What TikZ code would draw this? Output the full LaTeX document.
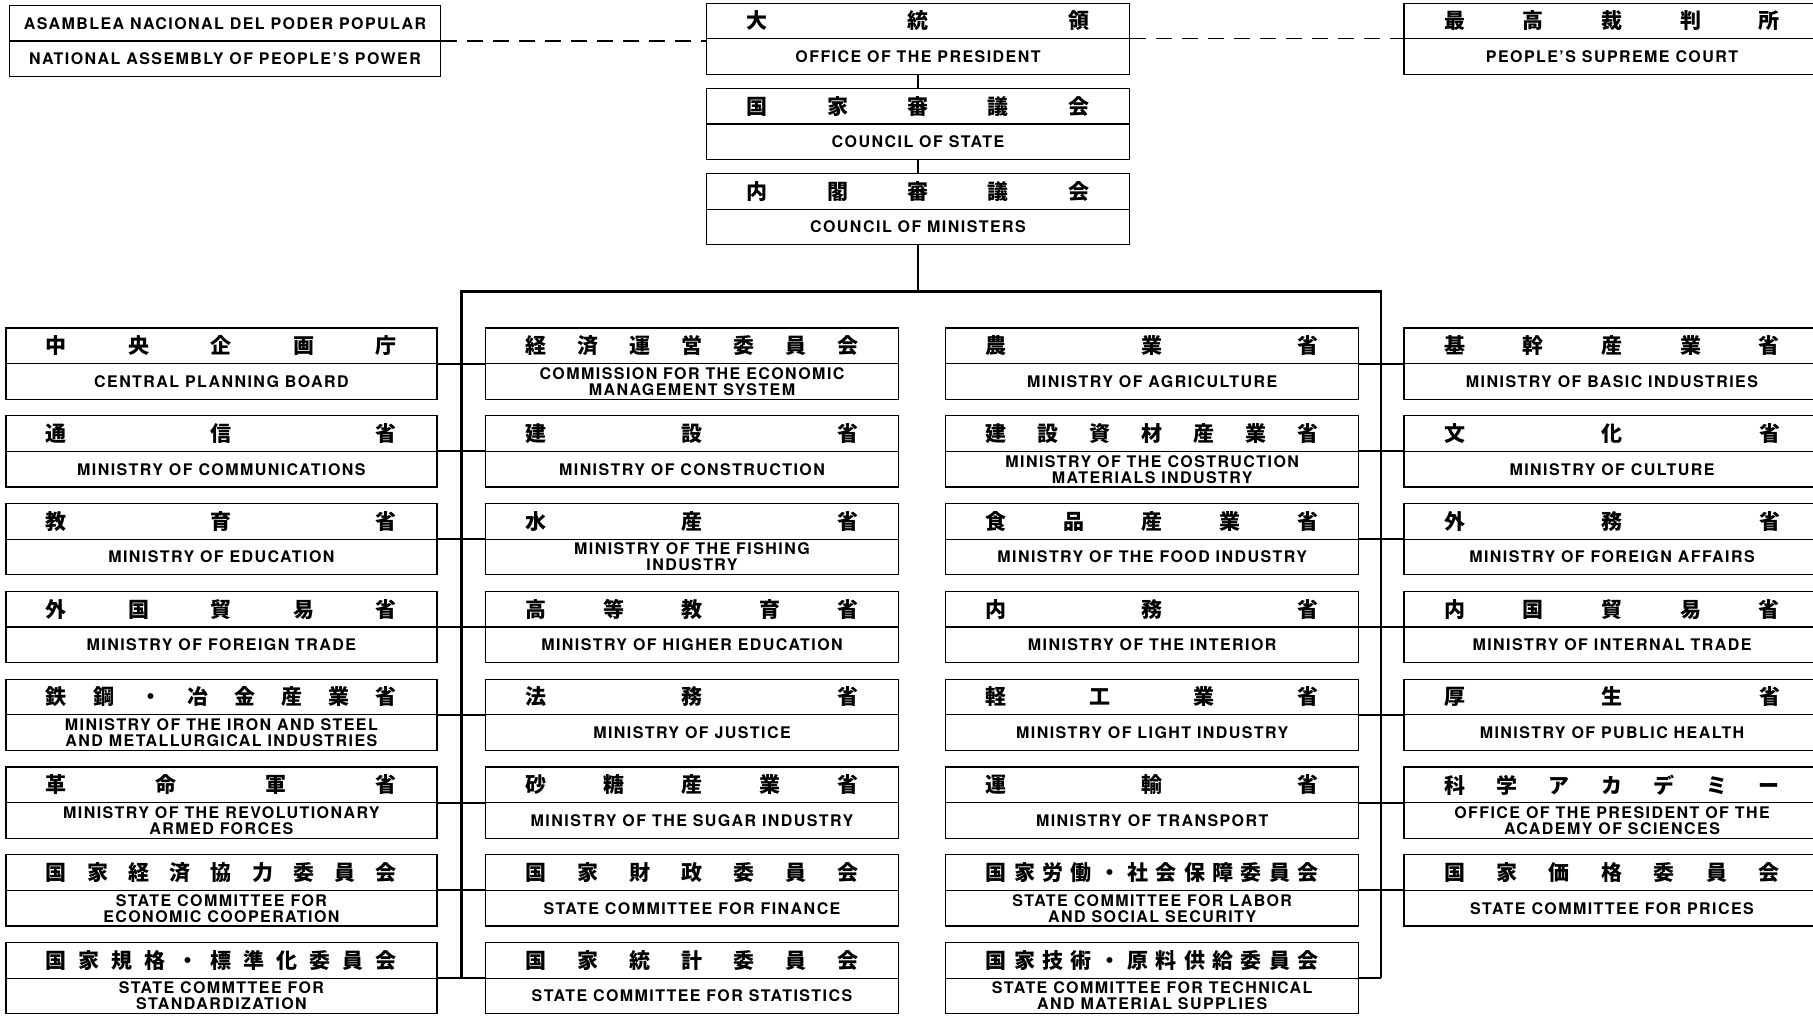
\documentclass[tikz,border=0pt]{standalone}
\usepackage{fontspec}
\newfontfamily\enfont[LetterSpace=9]{TeX Gyre Heros}
\newfontfamily\jpfont{Noto Sans CJK JP}
\usetikzlibrary{shapes.multipart,positioning}

\newlength{\halfh}
\setlength{\halfh}{34.3pt}

% spread the characters of a Japanese name over the upper part
\def\jpnext#1{\ifx\relax#1\else\hfill#1\expandafter\jpnext\fi}
\def\jpfirst#1{#1\jpnext}
\newcommand{\spreadjp}[1]{\jpfirst#1\relax}

\newcommand{\dept}[3]{%
  \parbox[c][\halfh][c]{#1}{\centering\makebox[\dimexpr#1-80pt\relax][s]{\jpfont\bfseries\fontsize{21}{22}\selectfont\spreadjp{#2}}}%
  \nodepart{two}%
  \parbox[c][\halfh][c]{#1}{\centering #3}}

\tikzset
{
    orgbox/.style   = {rectangle split, rectangle split parts=2, draw=black, line width=1.3pt, inner sep=0pt, font=\enfont\bfseries\fontsize{16}{16}\selectfont},
    link/.style     = {draw=black, line width=2pt},
    bus/.style      = {draw=black, line width=2.6pt},
    dashlink/.style = {draw=black, line width=1.2pt, dash pattern=on 16pt off 10pt}
}

\begin{document}
\begin{tikzpicture}[x=1pt, y=-1pt, node distance=15.3pt]
\path[use as bounding box, fill=white] (0,0) rectangle (1813,1020);

% top of the chart
\node[orgbox] (pres) at (918,38.8) {\dept{423pt}{大統領}{OFFICE OF THE PRESIDENT}};
\node[orgbox, below=12.7pt of pres] (state) {\dept{423pt}{国家審議会}{COUNCIL OF STATE}};
\node[orgbox, below=12.7pt of state] (minis) {\dept{423pt}{内閣審議会}{COUNCIL OF MINISTERS}};
\node[orgbox] (assembly) at (225,41) {\parbox[c][\halfh][c]{431pt}{\centering ASAMBLEA NACIONAL DEL PODER POPULAR}\nodepart{two}\parbox[c][\halfh][c]{431pt}{\centering NATIONAL ASSEMBLY OF PEOPLE’S POWER}};
\node[orgbox] (court) at (1612,38.8) {\dept{416pt}{最高裁判所}{PEOPLE’S SUPREME COURT}};

% first column
\node[orgbox] (cpb) at (221.4,363.6) {\dept{431pt}{中央企画庁}{CENTRAL PLANNING BOARD}};
\node[orgbox, below=of cpb] (comm) {\dept{431pt}{通信省}{MINISTRY OF COMMUNICATIONS}};
\node[orgbox, below=of comm] (edu) {\dept{431pt}{教育省}{MINISTRY OF EDUCATION}};
\node[orgbox, below=of edu] (ftrade) {\dept{431pt}{外国貿易省}{MINISTRY OF FOREIGN TRADE}};
\node[orgbox, below=of ftrade] (iron) {\dept{431pt}{鉄鋼・冶金産業省}{MINISTRY OF THE IRON AND STEEL\\AND METALLURGICAL INDUSTRIES}};
\node[orgbox, below=of iron] (far) {\dept{431pt}{革命軍省}{MINISTRY OF THE REVOLUTIONARY\\ARMED FORCES}};
\node[orgbox, below=of far] (econco) {\dept{431pt}{国家経済協力委員会}{STATE COMMITTEE FOR\\ECONOMIC COOPERATION}};
\node[orgbox, below=of econco] (stand) {\dept{431pt}{国家規格・標準化委員会}{STATE COMMTTEE FOR\\STANDARDIZATION}};

% second column
\node[orgbox] (econ) at (692,363.6) {\dept{413pt}{経済運営委員会}{COMMISSION FOR THE ECONOMIC\\MANAGEMENT SYSTEM}};
\node[orgbox, below=of econ] (constr) {\dept{413pt}{建設省}{MINISTRY OF CONSTRUCTION}};
\node[orgbox, below=of constr] (fish) {\dept{413pt}{水産省}{MINISTRY OF THE FISHING\\INDUSTRY}};
\node[orgbox, below=of fish] (hedu) {\dept{413pt}{高等教育省}{MINISTRY OF HIGHER EDUCATION}};
\node[orgbox, below=of hedu] (just) {\dept{413pt}{法務省}{MINISTRY OF JUSTICE}};
\node[orgbox, below=of just] (sugar) {\dept{413pt}{砂糖産業省}{MINISTRY OF THE SUGAR INDUSTRY}};
\node[orgbox, below=of sugar] (fin) {\dept{413pt}{国家財政委員会}{STATE COMMITTEE FOR FINANCE}};
\node[orgbox, below=of fin] (stat) {\dept{413pt}{国家統計委員会}{STATE COMMITTEE FOR STATISTICS}};

% third column
\node[orgbox] (agri) at (1152.2,363.6) {\dept{413pt}{農業省}{MINISTRY OF AGRICULTURE}};
\node[orgbox, below=of agri] (cmat) {\dept{413pt}{建設資材産業省}{MINISTRY OF THE COSTRUCTION\\MATERIALS INDUSTRY}};
\node[orgbox, below=of cmat] (food) {\dept{413pt}{食品産業省}{MINISTRY OF THE FOOD INDUSTRY}};
\node[orgbox, below=of food] (inter) {\dept{413pt}{内務省}{MINISTRY OF THE INTERIOR}};
\node[orgbox, below=of inter] (light) {\dept{413pt}{軽工業省}{MINISTRY OF LIGHT INDUSTRY}};
\node[orgbox, below=of light] (trans) {\dept{413pt}{運輸省}{MINISTRY OF TRANSPORT}};
\node[orgbox, below=of trans] (labor) {\dept{413pt}{国家労働・社会保障委員会}{STATE COMMITTEE FOR LABOR\\AND SOCIAL SECURITY}};
\node[orgbox, below=of labor] (supply) {\dept{413pt}{国家技術・原料供給委員会}{STATE COMMITTEE FOR TECHNICAL\\AND MATERIAL SUPPLIES}};

% fourth column
\node[orgbox] (basic) at (1612,363.6) {\dept{416pt}{基幹産業省}{MINISTRY OF BASIC INDUSTRIES}};
\node[orgbox, below=of basic] (cult) {\dept{416pt}{文化省}{MINISTRY OF CULTURE}};
\node[orgbox, below=of cult] (faff) {\dept{416pt}{外務省}{MINISTRY OF FOREIGN AFFAIRS}};
\node[orgbox, below=of faff] (itrade) {\dept{416pt}{内国貿易省}{MINISTRY OF INTERNAL TRADE}};
\node[orgbox, below=of itrade] (health) {\dept{416pt}{厚生省}{MINISTRY OF PUBLIC HEALTH}};
\node[orgbox, below=of health] (acad) {\dept{416pt}{科学アカデミー}{OFFICE OF THE PRESIDENT OF THE\\ACADEMY OF SCIENCES}};
\node[orgbox, below=of acad] (prices) {\dept{416pt}{国家価格委員会}{STATE COMMITTEE FOR PRICES}};

% connectors
\draw[dashlink] (assembly.text split east) -- (assembly.text split east -| pres.west);
\draw[dashlink] (pres.text split east) -- (pres.text split east -| court.west);
\draw[bus] (pres.south) -- (state.north);
\draw[bus] (state.south) -- (minis.north);

\coordinate (busl) at (461.5,291.4);
\coordinate (busr) at (1381,291.4);
\draw[bus] (minis.south) -- (minis.south |- busl);
\draw[bus] (busl |- stand.text split) -- (busl) -- (busr) -- (busr |- supply.text split);

\draw[link] (cpb.text split east) -- (econ.text split west);
\draw[link] (comm.text split east) -- (constr.text split west);
\draw[link] (edu.text split east) -- (fish.text split west);
\draw[link] (ftrade.text split east) -- (hedu.text split west);
\draw[link] (iron.text split east) -- (just.text split west);
\draw[link] (far.text split east) -- (sugar.text split west);
\draw[link] (econco.text split east) -- (fin.text split west);
\draw[link] (stand.text split east) -- (stat.text split west);

\draw[link] (agri.text split east) -- (basic.text split west);
\draw[link] (cmat.text split east) -- (cult.text split west);
\draw[link] (food.text split east) -- (faff.text split west);
\draw[link] (inter.text split east) -- (itrade.text split west);
\draw[link] (light.text split east) -- (health.text split west);
\draw[link] (trans.text split east) -- (acad.text split west);
\draw[link] (labor.text split east) -- (prices.text split west);
\draw[link] (supply.text split east) -- (supply.text split east -| busr);
\end{tikzpicture}
\end{document}
